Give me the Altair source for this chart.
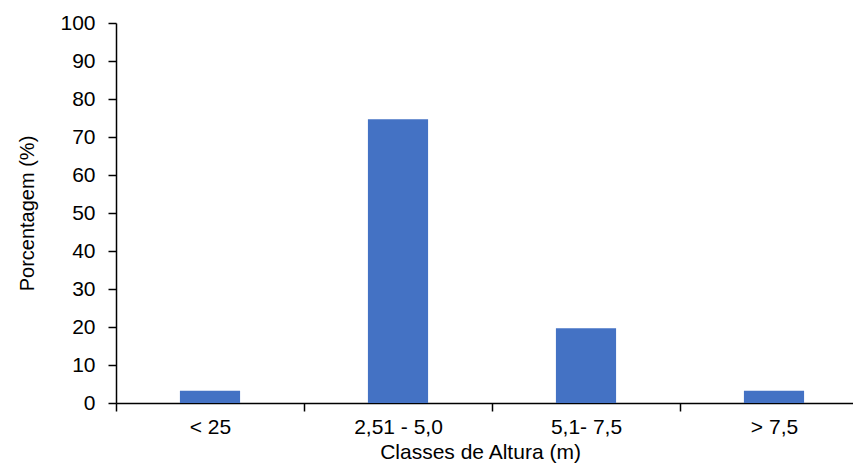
import altair as alt
import pandas as pd

categories = ["< 25", "2,51 - 5,0", "5,1- 7,5", "> 7,5"]
values = [3.2, 74.7, 19.7, 3.2]

df = pd.DataFrame({"classe": categories, "pct": values})

FONT = "Liberation Sans"

chart = alt.Chart(df).mark_bar(
    color="#4472C4", width=alt.RelativeBandSize(0.32)
).encode(
    x=alt.X("classe:N", sort=categories,
            scale=alt.Scale(paddingInner=0, paddingOuter=0, range=[0, 752]),
            axis=alt.Axis(title="Classes de Altura (m)", labelAngle=0,
                          tickBand="extent", tickSize=8, tickWidth=1.5,
                          domainColor="black", domainWidth=1.5, tickColor="black",
                          labelFont=FONT, labelFontSize=21, labelColor="black",
                          labelPadding=5, titleFont=FONT, titleFontSize=21,
                          titleFontWeight="normal", titleColor="black",
                          titlePadding=4, titleX=364)),
    y=alt.Y("pct:Q", scale=alt.Scale(domain=[0, 100], nice=False),
            axis=alt.Axis(title="Porcentagem (%)", values=list(range(0, 101, 10)),
                          grid=False, tickSize=8, tickWidth=1.5,
                          domainColor="black", domainWidth=1.5, tickColor="black",
                          labelFont=FONT, labelFontSize=21, labelColor="black",
                          labelPadding=13, titleFont=FONT, titleFontSize=20,
                          titleFontWeight="normal", titleColor="black",
                          titlePadding=22)),
).properties(
    width=737, height=380,
    autosize=alt.AutoSizeParams(type="none"),
    padding={"left": 108, "top": 15, "right": 0, "bottom": 61},
).configure_view(stroke=None)

chart.save("out.html", embed_options={"renderer": "svg", "actions": False})
